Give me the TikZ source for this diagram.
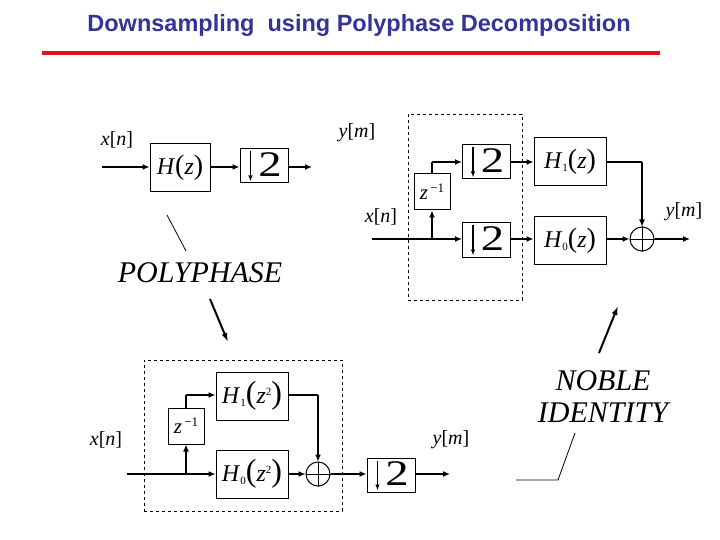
\documentclass[tikz,border=0pt]{standalone}
\usepackage{fontspec}
\setmainfont{Liberation Serif}
\newfontfamily\titlefont{Liberation Sans}
\usetikzlibrary{arrows.meta,calc}
\definecolor{titleblue}{RGB}{51,51,153}
\definecolor{barred}{RGB}{228,18,22}
\newcommand{\dnsamp}[2]{%
  \node[dsbox] (#1) at (#2) {};
  \draw[dsarr] ([xshift=11pt,yshift=-3pt]#1.north west) -- ([xshift=11pt,yshift=2pt]#1.south west);
  \node[font=\fontsize{36}{36}\selectfont, inner sep=0] (#1-t) at ([xshift=6pt,yshift=1pt]#1.center) {\scalebox{1.3}[1]{2}};
}
\begin{document}
\begin{tikzpicture}[x=1pt,y=-1pt,
  blk/.style={draw, line width=1pt, inner sep=0, font=\fontsize{24}{24}\selectfont},
  dsbox/.style={draw, line width=1pt, minimum width=48pt, minimum height=34pt, inner sep=0},
  zbox/.style={draw, line width=1pt, minimum width=36pt, minimum height=36pt, inner sep=0, font=\fontsize{21}{21}\selectfont},
  sig/.style={line width=1.7pt, -{Latex[length=7pt,width=6pt]}},
  sigl/.style={line width=1.7pt},
  thin/.style={line width=1.1pt, -{Latex[length=7pt,width=6pt]}},
  dsarr/.style={line width=1.2pt, -{Latex[length=6pt,width=4.5pt]}},
  adder/.style={draw, line width=1pt, circle, minimum size=24pt, inner sep=0},
  lbl/.style={font=\fontsize{20}{20}\selectfont, inner sep=0},
  big/.style={font=\itshape\fontsize{30}{32}\selectfont, inner sep=0, align=center},
  dashbox/.style={draw, line width=0.8pt, dashed}
]
\useasboundingbox (0,0) rectangle (720,540);

% title
\node[font=\titlefont\bfseries\fontsize{23.5}{24}\selectfont, text=titleblue, inner sep=0] (title) at (359,25) {Downsampling\ \ using Polyphase Decomposition};
\coordinate (barL) at (42,53);
\coordinate (barR) at (660,53);
\draw[barred, line width=4pt] (barL) -- (barR);

% ---------- top left ----------
\coordinate (inA) at (102,167);
\node[blk, minimum width=60pt, minimum height=48pt] (HA) at (180,168) {\textit{H}{\fontsize{28}{28}\selectfont(}\textit{z}{\fontsize{28}{28}\selectfont)}};
\dnsamp{DA}{264,166}
\coordinate (outA) at (312,167);
\draw[sig] (inA) -- (inA -| HA.west);
\draw[sig] (HA.east |- inA) -- (DA.west |- inA);
\draw[sig] (DA.east |- inA) -- (outA);
\node[lbl] (xA) at (117,140) {\textit{x}[\textit{n}]};
\node[lbl] (yA) at (357,133) {\textit{y}[\textit{m}]};

% ---------- top right ----------
\node[dashbox, minimum width=114pt, minimum height=186pt, inner sep=0] (dbB) at (465,207) {};
\dnsamp{DB1}{486.5,162}
\dnsamp{DB2}{486.5,240}
\node[zbox] (ZB) at (432,192) {\textit{z}\raisebox{7pt}{\fontsize{13}{13}\selectfont\,−1}};
\node[blk, minimum width=72pt, minimum height=48pt] (H1B) at (570,162) {\textit{H}\raisebox{-3pt}{\fontsize{11}{11}\selectfont 1}{\fontsize{28}{28}\selectfont(}\textit{z}{\fontsize{28}{28}\selectfont)}};
\node[blk, minimum width=72pt, minimum height=47pt] (H0B) at (570,240.5) {\textit{H}\raisebox{-3pt}{\fontsize{11}{11}\selectfont 0}{\fontsize{28}{28}\selectfont(}\textit{z}{\fontsize{28}{28}\selectfont)}};
\node[adder] (AB) at (642,239) {};
\draw[line width=0.8pt] (AB.north) -- (AB.south) (AB.west) -- (AB.east);
\coordinate (inB) at (372,239);
\coordinate (brB) at (432,239);
\coordinate (upB) at (432,162);
\coordinate (cnB) at (642,162);
\coordinate (outB) at (690,239);
\draw[sig] (inB) -- (inB -| DB2.west);
\draw[sig] (brB) -- (ZB.south);
\draw[sigl] (ZB.north) -- (upB);
\draw[sig] (upB) -- (upB -| DB1.west);
\draw[sig] (DB1.east |- upB) -- (H1B.west |- upB);
\draw[sig] (DB2.east |- inB) -- (H0B.west |- inB);
\draw[sig] (H0B.east |- inB) -- (AB.west);
\draw[line width=1.1pt] (H1B.east |- upB) -- (cnB);
\draw[thin] (cnB) -- (AB.north);
\draw[sig] (AB.east) -- (outB);
\node[lbl] (xB) at (381,217) {\textit{x}[\textit{n}]};
\node[lbl] (yB) at (684,212) {\textit{y}[\textit{m}]};

% ---------- bottom ----------
\node[dashbox, minimum width=198pt, minimum height=151pt, inner sep=0] (dbC) at (243,435.5) {};
\node[blk, minimum width=72pt, minimum height=48pt] (H1C) at (252,396) {\textit{H}\raisebox{-3pt}{\fontsize{11}{11}\selectfont 1}{\fontsize{32}{32}\selectfont(}\textit{z}\raisebox{8pt}{\fontsize{11}{11}\selectfont 2}{\fontsize{32}{32}\selectfont)}};
\node[blk, minimum width=72pt, minimum height=48pt] (H0C) at (252,474) {\textit{H}\raisebox{-3pt}{\fontsize{11}{11}\selectfont 0}{\fontsize{32}{32}\selectfont(}\textit{z}\raisebox{8pt}{\fontsize{11}{11}\selectfont 2}{\fontsize{32}{32}\selectfont)}};
\node[zbox] (ZC) at (186,426) {\textit{z}\raisebox{7pt}{\fontsize{13}{13}\selectfont\,−1}};
\node[adder] (AC) at (318,474) {};
\draw[line width=0.8pt] (AC.north) -- (AC.south) (AC.west) -- (AC.east);
\dnsamp{DC}{391,475}
\coordinate (inC) at (127,474);
\coordinate (brC) at (186,474);
\coordinate (upC) at (186,395);
\coordinate (cnC) at (318,395);
\coordinate (outC) at (450,474);
\draw[sig] (inC) -- (H0C.west |- inC);
\draw[sig] (brC) -- (ZC.south);
\draw[sigl] (ZC.north) -- (upC);
\draw[sig] (upC) -- (H1C.west |- upC);
\draw[line width=1.1pt] (H1C.east |- upC) -- (cnC);
\draw[thin] (cnC) -- (AC.north);
\draw[sig] (H0C.east |- inC) -- (AC.west);
\draw[sig] (AC.east) -- (DC.west |- inC);
\draw[sig] (DC.east |- inC) -- (outC);
\node[lbl] (xC) at (106,440) {\textit{x}[\textit{n}]};
\node[lbl] (yC) at (451,440) {\textit{y}[\textit{m}]};

% ---------- annotations ----------
\node[big] (poly) at (200,273) {POLYPHASE};
\coordinate (p1) at (167,215);
\coordinate (p2) at (186,251);
\draw[line width=0.8pt] (p1) -- (p2);
\coordinate (p3) at (210,299);
\coordinate (p4) at (228,342);
\draw[line width=2pt, -{Latex[length=9pt,width=6pt]}] (p3) -- (p4);

\node[big] (noble) at (603,397) {NOBLE\\IDENTITY};
\coordinate (n1) at (599,353);
\coordinate (n2) at (618,306);
\draw[line width=2pt, -{Latex[length=9pt,width=6pt]}] (n1) -- (n2);
\coordinate (n3) at (575,433);
\coordinate (n4) at (558,480);
\coordinate (n5) at (516,480);
\draw[line width=0.8pt] (n3) -- (n4) -- (n5);
\end{tikzpicture}
\end{document}
